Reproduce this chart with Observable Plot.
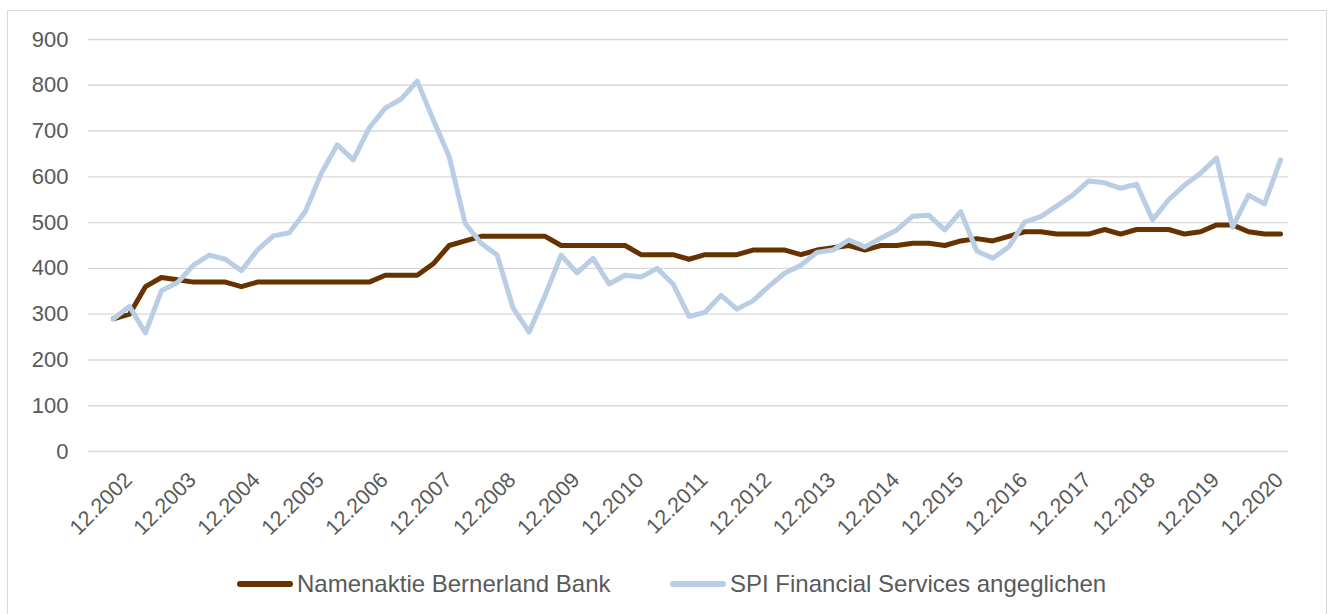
<!DOCTYPE html>
<html>
<head>
<meta charset="utf-8">
<script src="https://cdn.jsdelivr.net/npm/d3@7"></script>
<script src="https://cdn.jsdelivr.net/npm/@observablehq/plot@0.6"></script>
<style>
  html, body { margin: 0; padding: 0; background: #fff; }
  #wrap { position: relative; width: 1333px; height: 614px; overflow: hidden; font-family: "Liberation Sans", Arial, sans-serif; }
  #frame { position: absolute; left: 7px; top: 10px; width: 1320px; height: 620px; border: 1px solid #d9d9d9; box-sizing: border-box; }
  #chart { position: absolute; left: 0; top: 0; }
  #legend { position: absolute; left: 0; top: 570px; width: 1333px; height: 28px; }
  .item { position: absolute; top: 0; display: flex; align-items: center; height: 28px; font-size: 24px; color: #595959; white-space: nowrap; }
  .swatch { width: 56px; height: 5.5px; border-radius: 3px; margin-right: 4px; }
</style>
</head>
<body>
<div id="wrap">
  <div id="frame"></div>
  <div id="chart"></div>
  <div id="legend"></div>
</div>
<script>
// Tick labels on the category axis (every 4th quarter)
const tickLabels = ["12.2002","12.2003","12.2004","12.2005","12.2006","12.2007","12.2008","12.2009","12.2010","12.2011","12.2012","12.2013","12.2014","12.2015","12.2016","12.2017","12.2018","12.2019","12.2020"];

// Series names and colours
const seriesNames = ["Namenaktie Bernerland Bank", "SPI Financial Services angeglichen"];
const seriesColors = ["#663300", "#b9cde5"];

// Quarterly values (74 quarters, 12.2002 ... 03.2021)
const bernerland = [290,300,360,380,375,370,370,370,360,370,
                    370,370,370,370,370,370,370,385,385,385,
                    410,450,460,470,470,470,470,470,450,450,
                    450,450,450,430,430,430,420,430,430,430,
                    440,440,440,430,440,445,450,440,450,450,
                    455,455,450,460,465,460,470,480,480,475,
                    475,475,485,475,485,485,485,475,480,495,
                    495,480,475,475];

const spi = [290,317,259,351,369,407,429,420,395,440,
             471,478,524,608,670,637,707,750,770,809,
             725,644,498,455,429,313,261,341,429,390,
             422,366,385,381,400,366,295,304,341,311,
             329,361,390,407,435,440,462,447,466,484,
             514,516,484,524,438,422,447,501,513,536,
             560,591,587,575,584,506,550,582,608,641,
             490,560,541,637];

const yTicks = [0,100,200,300,400,500,600,700,800,900];

const rows = (vals, name) => vals.map((v, i) => ({i, v, name}));
const data = [...rows(bernerland, seriesNames[0]), ...rows(spi, seriesNames[1])];
const tickIdx = tickLabels.map((_, k) => k * 4);

const chart = Plot.plot({
  width: 1333,
  height: 530,
  marginLeft: 88,
  marginRight: 45,
  marginTop: 39,
  marginBottom: 79,
  x: {domain: [-1.563, 73.5], label: null},
  y: {domain: [0, 900], label: null},
  style: {fontFamily: "'Liberation Sans', Arial, sans-serif", fontSize: "22px", color: "#595959", background: "transparent", overflow: "visible"},
  marks: [
    Plot.gridY(yTicks, {stroke: "#d9d9d9", strokeOpacity: 1, strokeWidth: 1.4}),
    Plot.axisY(yTicks, {tickSize: 0, tickPadding: 20, fontSize: 22, fill: "#595959", label: null}),
    Plot.axisX(tickIdx, {tickSize: 0, tickRotate: -45, tickFormat: d => tickLabels[d / 4], fontSize: 21.5, fill: "#595959", dx: 15, dy: 13, label: null}),
    Plot.line(data.filter(d => d.name === seriesNames[0]), {x: "i", y: "v", stroke: seriesColors[0], strokeWidth: 5, strokeLinejoin: "round", strokeLinecap: "round"}),
    Plot.line(data.filter(d => d.name === seriesNames[1]), {x: "i", y: "v", stroke: seriesColors[1], strokeWidth: 5, strokeLinejoin: "round", strokeLinecap: "round"})
  ]
});
document.getElementById("chart").appendChild(chart);

const legend = document.getElementById("legend");
const lefts = [237, 670];
seriesNames.forEach((name, k) => {
  const item = document.createElement("div");
  item.className = "item";
  item.style.left = lefts[k] + "px";
  const sw = document.createElement("div");
  sw.className = "swatch";
  sw.style.background = seriesColors[k];
  const label = document.createElement("span");
  label.textContent = name;
  item.appendChild(sw);
  item.appendChild(label);
  legend.appendChild(item);
});
</script>
</body>
</html>
